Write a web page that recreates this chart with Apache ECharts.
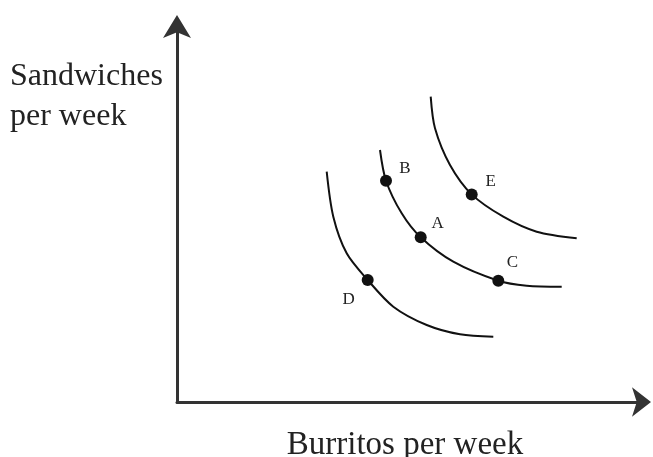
<!DOCTYPE html>
<html><head><meta charset="utf-8">
<script src="https://cdn.jsdelivr.net/npm/echarts@6/dist/echarts.min.js"></script>
<style>html,body{margin:0;padding:0;background:#fff}#c{width:653px;height:457px}</style>
</head><body><div id="c"></div>
<script>
// Data (units: quantities per week)
const curveLow  = [[14.97,23.03],[15.63,18.53],[16.97,14.87],[19.07,12.2],[21.63,9.53],[24.97,7.7],[28.3,6.77],[31.63,6.53]];
const curveMid  = [[20.3,25.2],[20.9,22.13],[22.47,18.87],[24.37,16.47],[27.63,14.03],[32.13,12.13],[34.97,11.63],[38.47,11.53]];
const curveHigh = [[25.37,30.53],[25.8,27.37],[27.3,23.7],[29.47,20.76],[32.63,18.53],[35.97,17.03],[39.97,16.37]];
const pointNames  = ['B','A','C','D','E'];
const pointValues = [[20.9,22.13],[24.37,16.47],[32.13,12.13],[19.07,12.2],[29.47,20.76]];
const xTitle = 'Burritos per week';
const yTitle = 'Sandwiches\nper week';

// Styling
const labelOffset = {B:[19,-12], A:[17,-14], C:[14,-18], D:[-19,20], E:[19,-13]};
const ink = '#111';
const axisInk = '#333';
const serif = '"Liberation Serif", "Times New Roman", serif';

const chart = echarts.init(document.getElementById('c'), null, {renderer:'canvas'});

function curve(data){
  return {type:'line', data:data, smooth:0.3, showSymbol:false,
    lineStyle:{color:ink, width:2}, silent:true, z:2};
}

chart.setOption({
  animation:false,
  backgroundColor:'#fff',
  grid:{left:177, top:26.5, width:465, height:375.5, containLabel:false},
  xAxis:{type:'value', min:0, max:46.5, position:'bottom',
    axisLine:{show:true, onZero:false, symbol:['none','arrow'], symbolSize:[22,19], symbolOffset:[0,9],
      lineStyle:{color:axisInk, width:3}},
    axisTick:{show:false}, axisLabel:{show:false}, splitLine:{show:false}},
  yAxis:{type:'value', min:0, max:37.55, position:'left',
    axisLine:{show:true, onZero:false, symbol:['none','arrow'], symbolSize:[21,23], symbolOffset:[0,11.5],
      lineStyle:{color:axisInk, width:3}},
    axisTick:{show:false}, axisLabel:{show:false}, splitLine:{show:false}},
  graphic:[
    {type:'text', left:10, top:57, style:{text:yTitle, font:'32px '+serif, fill:'#222', lineHeight:40,
      verticalAlign:'middle', align:'left'}},
    {type:'text', x:405, y:445, style:{text:xTitle, font:'33px '+serif, fill:'#222',
      verticalAlign:'middle', align:'center'}}
  ],
  series:[
    curve(curveLow), curve(curveMid), curve(curveHigh),
    {type:'scatter', z:5, symbol:'circle', symbolSize:12, itemStyle:{color:ink, opacity:1},
      data:pointNames.map((n,i)=>({name:n, value:pointValues[i],
        label:{show:true, formatter:n, position:'inside', offset:labelOffset[n],
          color:'#222', fontFamily:serif, fontSize:17}}))}
  ]
});
</script></body></html>
